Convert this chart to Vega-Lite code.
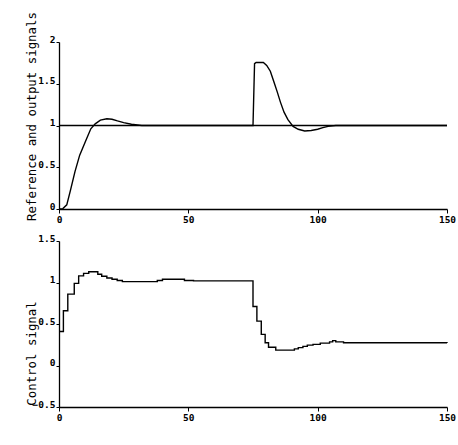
{
  "$schema": "https://vega.github.io/schema/vega-lite/v6.json",
  "background": "white",
  "padding": {"left": 24, "top": 11, "right": 5, "bottom": 5},
  "spacing": 9,
  "datasets": {
    "signals": [
      {"t": 0, "value": 1, "series": "reference"},
      {"t": 150, "value": 1, "series": "reference"},
      {"t": 0, "value": 0, "series": "output"},
      {"t": 1.5, "value": 0.005, "series": "output"},
      {"t": 3, "value": 0.05, "series": "output"},
      {"t": 4.4, "value": 0.22, "series": "output"},
      {"t": 6.2, "value": 0.45, "series": "output"},
      {"t": 8, "value": 0.645, "series": "output"},
      {"t": 10.5, "value": 0.83, "series": "output"},
      {"t": 12.3, "value": 0.96, "series": "output"},
      {"t": 14, "value": 1.02, "series": "output"},
      {"t": 16, "value": 1.065, "series": "output"},
      {"t": 18.5, "value": 1.08, "series": "output"},
      {"t": 20.5, "value": 1.075, "series": "output"},
      {"t": 22.6, "value": 1.055, "series": "output"},
      {"t": 25, "value": 1.035, "series": "output"},
      {"t": 28, "value": 1.015, "series": "output"},
      {"t": 32, "value": 1.0, "series": "output"},
      {"t": 75, "value": 1.0, "series": "output"},
      {"t": 75.6, "value": 1.74, "series": "output"},
      {"t": 76.2, "value": 1.755, "series": "output"},
      {"t": 79, "value": 1.755, "series": "output"},
      {"t": 80.3, "value": 1.72, "series": "output"},
      {"t": 81.7, "value": 1.65, "series": "output"},
      {"t": 83.1, "value": 1.52, "series": "output"},
      {"t": 84.4, "value": 1.4, "series": "output"},
      {"t": 85.6, "value": 1.28, "series": "output"},
      {"t": 87, "value": 1.16, "series": "output"},
      {"t": 88.5, "value": 1.07, "series": "output"},
      {"t": 90.5, "value": 0.99, "series": "output"},
      {"t": 92.5, "value": 0.955, "series": "output"},
      {"t": 95, "value": 0.935, "series": "output"},
      {"t": 97.5, "value": 0.94, "series": "output"},
      {"t": 100, "value": 0.955, "series": "output"},
      {"t": 102, "value": 0.975, "series": "output"},
      {"t": 104, "value": 0.99, "series": "output"},
      {"t": 107, "value": 1.0, "series": "output"},
      {"t": 150, "value": 1.0, "series": "output"}
    ],
    "control": [
      {"t": 0, "u": 0.41},
      {"t": 1.7, "u": 0.66},
      {"t": 3.4, "u": 0.86},
      {"t": 5.9, "u": 0.99},
      {"t": 7.6, "u": 1.08},
      {"t": 9.5, "u": 1.11},
      {"t": 11.5, "u": 1.13},
      {"t": 15, "u": 1.1},
      {"t": 16.5, "u": 1.075},
      {"t": 18.5, "u": 1.055},
      {"t": 20.5, "u": 1.04},
      {"t": 22.5, "u": 1.025},
      {"t": 24.5, "u": 1.01},
      {"t": 38, "u": 1.025},
      {"t": 40, "u": 1.04},
      {"t": 48.5, "u": 1.025},
      {"t": 52, "u": 1.02},
      {"t": 75, "u": 0.71},
      {"t": 76.5, "u": 0.535},
      {"t": 78.2, "u": 0.375},
      {"t": 79.7, "u": 0.275},
      {"t": 81, "u": 0.22},
      {"t": 83.8, "u": 0.185},
      {"t": 91, "u": 0.2},
      {"t": 92.5, "u": 0.215},
      {"t": 94.3, "u": 0.23},
      {"t": 96, "u": 0.245},
      {"t": 98.2, "u": 0.255},
      {"t": 101, "u": 0.27},
      {"t": 104.6, "u": 0.285},
      {"t": 105.8, "u": 0.3},
      {"t": 107, "u": 0.285},
      {"t": 110, "u": 0.275},
      {"t": 150, "u": 0.27}
    ]
  },
  "config": {
    "view": {"stroke": null},
    "axis": {
      "grid": false,
      "domainColor": "black",
      "domainWidth": 1.3,
      "tickColor": "black",
      "tickSize": 4,
      "labelFont": "DejaVu Sans Mono",
      "labelFontWeight": "bold",
      "labelFontSize": 9.5,
      "labelColor": "black",
      "titleFont": "DejaVu Sans Mono",
      "titleFontWeight": "normal",
      "titleFontSize": 12.4,
      "titleColor": "black"
    }
  },
  "vconcat": [
    {
      "width": 388,
      "height": 167,
      "data": {"name": "signals"},
      "mark": {"type": "line", "color": "black", "strokeWidth": 1.4},
      "encoding": {
        "x": {
          "field": "t", "type": "quantitative",
          "scale": {"domain": [0, 150], "nice": false},
          "axis": {"values": [0, 50, 100, 150], "title": null, "labelPadding": 1, "labelFlush": false}
        },
        "y": {
          "field": "value", "type": "quantitative",
          "scale": {"domain": [0, 2], "nice": false},
          "axis": {
            "values": [0, 0.5, 1, 1.5, 2], "format": "~g",
            "title": "Reference and output signals",
            "titleX": -28, "titleY": 74, "titleAngle": -90,
            "titleAlign": "center", "titleBaseline": "middle",
            "labelBaseline": "alphabetic", "labelPadding": 1, "tickSize": 3
          }
        },
        "detail": {"field": "series"}
      }
    },
    {
      "width": 388,
      "height": 166,
      "data": {"name": "control"},
      "mark": {"type": "line", "color": "black", "strokeWidth": 1.4, "interpolate": "step-after"},
      "encoding": {
        "x": {
          "field": "t", "type": "quantitative",
          "scale": {"domain": [0, 150], "nice": false},
          "axis": {"values": [0, 50, 100, 150], "title": null, "labelPadding": 1, "labelFlush": false}
        },
        "y": {
          "field": "u", "type": "quantitative",
          "scale": {"domain": [-0.5, 1.5], "nice": false},
          "axis": {
            "values": [-0.5, 0, 0.5, 1, 1.5], "format": "~g",
            "title": "Control signal",
            "titleX": -28, "titleY": 112, "titleAngle": -90,
            "titleAlign": "center", "titleBaseline": "middle",
            "labelBaseline": "alphabetic", "labelPadding": 1, "tickSize": 3
          }
        }
      }
    }
  ]
}
